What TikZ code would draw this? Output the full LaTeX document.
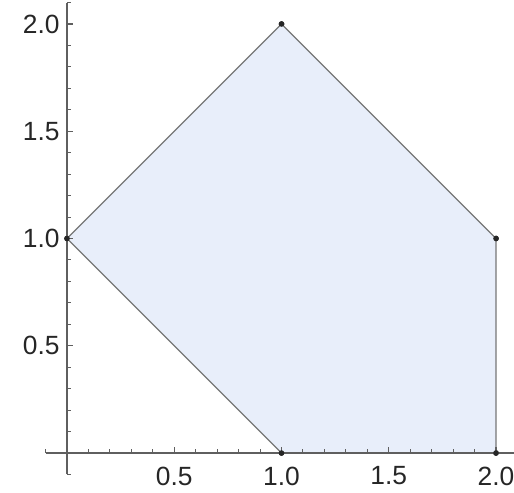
\documentclass[tikz,border=0pt]{standalone}
\usepackage{fontspec}
\setmainfont{Liberation Sans}
\usepackage{xcolor}
\usepackage{tikz}
\usetikzlibrary{positioning}

\definecolor{regionfill}{RGB}{232,238,250}
\definecolor{edgegray}{RGB}{118,118,118}
\definecolor{axisgray}{RGB}{95,95,95}

\begin{document}
\begin{tikzpicture}[
            x=4.29cm, y=4.29cm, % one unit of the plot
            vertex/.style={circle, fill=black!85, inner sep=0pt, minimum size=3.2pt},
            ticklabel/.style={inner sep=0pt, font=\fontsize{15}{18}\selectfont, text=black!85},
            axisline/.style={draw=axisgray, line width=0.6pt},
            edge/.style={draw=edgegray, line width=0.7pt}
        ]
        \useasboundingbox (-0.3124,-0.1818) rectangle (2.0839,2.1119);

        % Corner points of the region
        \node[vertex] (v0) at (0,1) {};
        \node[vertex] (v1) at (1,2) {};
        \node[vertex] (v2) at (2,1) {};
        \node[vertex] (v3) at (2,0) {};
        \node[vertex] (v4) at (1,0) {};

        % Region
        \fill[regionfill] (v0.center) -- (v1.center) -- (v2.center) -- (v3.center) -- (v4.center) -- cycle;
        \draw[edge] (v0.center) -- (v1.center) -- (v2.center) -- (v3.center);
        \draw[edge] (v4.center) -- (v0.center);

        % Axes
        \draw[axisline] (-0.1,0) -- (2.1,0);
        \draw[axisline] (0,-0.1) -- (0,2.1);

        % Ticks
        \foreach \i in {-1,1,2,...,20}
            \draw[axisline] (\i/10,0) -- ++(0,0.017);
        \foreach \i in {-1,1,2,...,21}
            \draw[axisline] (0,\i/10) -- ++(0.017,0);
        \foreach \t in {0.5,1,1.5,2} {
            \draw[axisline] (\t,0) -- ++(0,0.03);
            \draw[axisline] (0,\t) -- ++(0.03,0);
        }

        % Tick labels
        \node[ticklabel] (xa) at (0.5,-0.107) {0.5};
        \node[ticklabel] (xb) at (1.0,-0.107) {1.0};
        \node[ticklabel] (xc) at (1.5,-0.107) {1.5};
        \node[ticklabel] (xd) at (2.0,-0.107) {2.0};
        \node[ticklabel, anchor=east] (ya) at (-0.033,0.5) {0.5};
        \node[ticklabel, anchor=east] (yb) at (-0.033,1.0) {1.0};
        \node[ticklabel, anchor=east] (yc) at (-0.033,1.5) {1.5};
        \node[ticklabel, anchor=east] (yd) at (-0.033,2.0) {2.0};

        % Points on top
        \node[vertex] at (v0) {};
        \node[vertex] at (v1) {};
        \node[vertex] at (v2) {};
        \node[vertex] at (v3) {};
        \node[vertex] at (v4) {};
        \end{tikzpicture}
\end{document}
